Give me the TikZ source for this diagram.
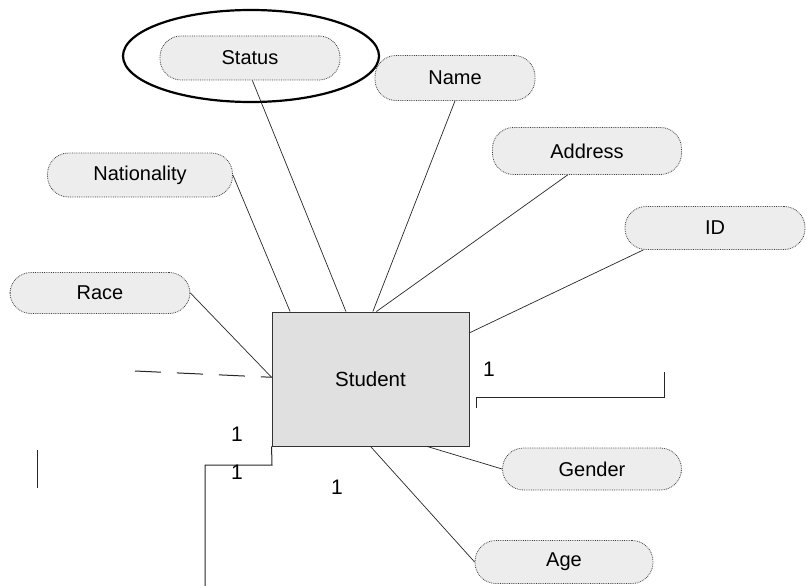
\documentclass[tikz,border=0pt]{standalone}
\usepackage{fontspec}
\setmainfont{Liberation Sans}
\usetikzlibrary{calc}
\begin{document}
\begin{tikzpicture}[x=1pt,y=-1pt,
  attr/.style={draw=black!75,densely dotted,line width=0.8pt,fill=black!7,
    rounded corners=21pt,minimum height=44pt,inner sep=0pt,
    font=\fontsize{20}{24}\selectfont},
  entity/.style={draw=black!80,line width=0.9pt,fill=black!12,
    minimum width=197pt,minimum height=134pt,inner sep=0pt,
    font=\fontsize{20.5}{24}\selectfont},
  link/.style={draw=black!85,line width=0.7pt},
  rel/.style={draw=black!85,line width=1pt},
  card/.style={font=\fontsize{21}{24}\selectfont,inner sep=0pt}]
\useasboundingbox (0,0) rectangle (807,586);

% the entity
\node[entity] (student) at (370.5,379) {Student};

% attributes
\node[attr,minimum width=180pt] (status) at (250,58) {Status};
\node[attr,minimum width=160pt,minimum height=45pt] (name) at (455,78) {Name};
\node[attr,minimum width=189pt,minimum height=47pt] (address) at (587,151) {Address};
\node[attr,minimum width=180pt,minimum height=43pt] (id) at (715,228) {ID};
\node[attr,minimum width=185pt] (nationality) at (140,175) {Nationality};
\node[attr,minimum width=180pt,minimum height=41pt] (race) at (100,293) {Race};
\node[attr,minimum width=179pt,minimum height=42pt] (gender) at (592,469) {Gender};
\node[attr,minimum width=178pt,minimum height=43pt] (age) at (564,562) {Age};

% highlight ring round the Status attribute
\draw[line width=2.2pt] (251,56) ellipse [x radius=128, y radius=46];

% attribute links
\draw[link] (status.-84) -- (student.110.8);
\draw[link] (name.south) -- (student.88.7);
\draw[link] (address.-129) -- (student.85.3);
\draw[link] (nationality.east) -- (student.140.2);
\draw[link] (id.-163.6) -- (student.25);
\draw[link] (race.east) -- (student.179.4);
\draw[link] (student.-50.9) -- (gender.west);
\draw[link] (student.south) -- (age.west);

% relationship lines leaving the entity
\coordinate (dashend) at (135,371);
\draw[rel,dash pattern=on 26pt off 16pt] (dashend) -- (student.179.4);

\coordinate (stepa) at (272,465);
\coordinate (stepb) at (205,465);
\coordinate (stepc) at (205,586);
\draw[rel] (student.south west) -- (stepa) -- (stepb) -- (stepc);

\coordinate (lefttop) at (37,450);
\coordinate (leftbot) at (37,488);
\draw[rel] (lefttop) -- (leftbot);

\coordinate (ra) at (476,397);
\coordinate (rb) at (664,397);
\coordinate (rc) at (664,372);
\coordinate (rtick) at (476,408);
\draw[rel] (ra) -- (rb) -- (rc);
\draw[rel] (ra) -- (rtick);

% cardinalities
\node[card] (c1) at (237,434) {1};
\node[card] (c2) at (237,472) {1};
\node[card] (c3) at (337,487) {1};
\node[card] (c4) at (489,369) {1};
\end{tikzpicture}
\end{document}
